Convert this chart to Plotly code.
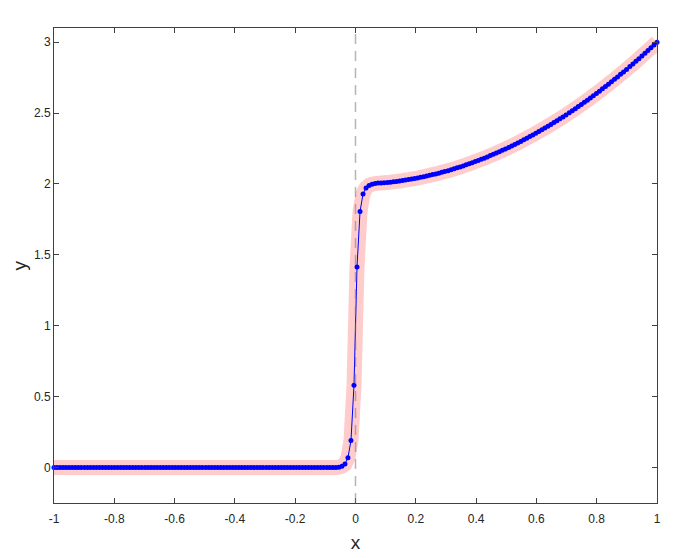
import plotly.graph_objects as go

# sampled grid (200 points on [-1, 1]) and numerical solution values
x_neg = [-1.0, -0.99, -0.98, -0.97, -0.96, -0.95, -0.94, -0.93, -0.92, -0.91,
         -0.899, -0.889, -0.879, -0.869, -0.859, -0.849, -0.839, -0.829, -0.819, -0.809,
         -0.799, -0.789, -0.779, -0.769, -0.759, -0.749, -0.739, -0.729, -0.719, -0.709,
         -0.698, -0.688, -0.678, -0.668, -0.658, -0.648, -0.638, -0.628, -0.618, -0.608,
         -0.598, -0.588, -0.578, -0.568, -0.558, -0.548, -0.538, -0.528, -0.518, -0.508,
         -0.497, -0.487, -0.477, -0.467, -0.457, -0.447, -0.437, -0.427, -0.417, -0.407,
         -0.397, -0.387, -0.377, -0.367, -0.357, -0.347, -0.337, -0.327, -0.317, -0.307,
         -0.296, -0.286, -0.276, -0.266, -0.256, -0.246, -0.236, -0.226, -0.216, -0.206,
         -0.196, -0.186, -0.176, -0.166, -0.156, -0.146, -0.136, -0.126, -0.116, -0.106,
         -0.095, -0.085, -0.075, -0.065, -0.055, -0.045, -0.035, -0.025, -0.015, -0.005]
y_neg = [0.0, 0.0, 0.0, 0.0, 0.0, 0.0, 0.0, 0.0, 0.0, 0.0,
         0.0, 0.0, 0.0, 0.0, 0.0, 0.0, 0.0, 0.0, 0.0, 0.0,
         0.0, 0.0, 0.0, 0.0, 0.0, 0.0, 0.0, 0.0, 0.0, 0.0,
         0.0, 0.0, 0.0, 0.0, 0.0, 0.0, 0.0, 0.0, 0.0, 0.0,
         0.0, 0.0, 0.0, 0.0, 0.0, 0.0, 0.0, 0.0, 0.0, 0.0,
         0.0, 0.0, 0.0, 0.0, 0.0, 0.0, 0.0, 0.0, 0.0, 0.0,
         0.0, 0.0, 0.0, 0.0, 0.0, 0.0, 0.0, 0.0, 0.0, 0.0,
         0.0, 0.0, 0.0, 0.0, 0.0, 0.0, 0.0, 0.0, 0.0, 0.0,
         0.0, 0.0, 0.0, 0.0, 0.0, 0.0, 0.0, 0.0, 0.0, 0.0,
         0.0, 0.0, 0.0, 0.0, 0.003, 0.01, 0.025, 0.07, 0.19, 0.58]

x_pos = [0.005, 0.015, 0.025, 0.035, 0.045, 0.055, 0.065, 0.075, 0.085, 0.095,
         0.106, 0.116, 0.126, 0.136, 0.146, 0.156, 0.166, 0.176, 0.186, 0.196,
         0.206, 0.216, 0.226, 0.236, 0.246, 0.256, 0.266, 0.276, 0.286, 0.296,
         0.307, 0.317, 0.327, 0.337, 0.347, 0.357, 0.367, 0.377, 0.387, 0.397,
         0.407, 0.417, 0.427, 0.437, 0.447, 0.457, 0.467, 0.477, 0.487, 0.497,
         0.508, 0.518, 0.528, 0.538, 0.548, 0.558, 0.568, 0.578, 0.588, 0.598,
         0.608, 0.618, 0.628, 0.638, 0.648, 0.658, 0.668, 0.678, 0.688, 0.698,
         0.709, 0.719, 0.729, 0.739, 0.749, 0.759, 0.769, 0.779, 0.789, 0.799,
         0.809, 0.819, 0.829, 0.839, 0.849, 0.859, 0.869, 0.879, 0.889, 0.899,
         0.91, 0.92, 0.93, 0.94, 0.95, 0.96, 0.97, 0.98, 0.99, 1.0]
y_pos = [1.415, 1.805, 1.930, 1.972, 1.990, 1.998, 2.003, 2.006, 2.007, 2.009,
         2.011, 2.013, 2.016, 2.018, 2.021, 2.024, 2.028, 2.031, 2.035, 2.038,
         2.042, 2.047, 2.051, 2.056, 2.061, 2.066, 2.071, 2.076, 2.082, 2.088,
         2.094, 2.100, 2.107, 2.114, 2.120, 2.127, 2.135, 2.142, 2.150, 2.158,
         2.166, 2.174, 2.182, 2.191, 2.200, 2.209, 2.218, 2.228, 2.237, 2.247,
         2.258, 2.268, 2.279, 2.289, 2.300, 2.311, 2.323, 2.334, 2.346, 2.358,
         2.370, 2.382, 2.394, 2.407, 2.420, 2.433, 2.446, 2.460, 2.473, 2.487,
         2.503, 2.517, 2.531, 2.546, 2.561, 2.576, 2.591, 2.607, 2.623, 2.638,
         2.654, 2.671, 2.687, 2.704, 2.721, 2.738, 2.755, 2.773, 2.790, 2.808,
         2.828, 2.846, 2.865, 2.884, 2.903, 2.922, 2.941, 2.960, 2.980, 3.000]

x_tick_vals = [-1, -0.8, -0.6, -0.4, -0.2, 0, 0.2, 0.4, 0.6, 0.8, 1]
x_tick_text = ["-1", "-0.8", "-0.6", "-0.4", "-0.2", "0", "0.2", "0.4", "0.6", "0.8", "1"]
y_tick_vals = [0, 0.5, 1, 1.5, 2, 2.5, 3]
y_tick_text = ["0", "0.5", "1", "1.5", "2", "2.5", "3"]

x_all = x_neg + x_pos
y_all = y_neg + y_pos

FONT = "Liberation Sans, Arial, sans-serif"

fig = go.Figure()
fig.add_trace(go.Scatter(
    x=x_all, y=y_all, mode="lines",
    line=dict(color="#ffcccc", width=15, simplify=False),
    hoverinfo="skip", showlegend=False,
))
fig.add_trace(go.Scatter(
    x=x_all, y=y_all, mode="lines+markers",
    line=dict(color="#0000ff", width=1, simplify=False),
    marker=dict(color="#0000ff", size=5, line=dict(width=0)),
    cliponaxis=False, showlegend=False,
))

fig.add_shape(type="line", xref="x", yref="paper", x0=0, x1=0, y0=0, y1=1,
              line=dict(color="rgba(120,120,120,0.55)", width=1.5, dash="10px,7px"),
              layer="above")

axis_common = dict(
    showline=True, mirror="ticks", linecolor="#404040", linewidth=1,
    ticks="inside", ticklen=5, tickcolor="#404040", tickwidth=1,
    showgrid=False, zeroline=False, automargin=False,
    tickfont=dict(family=FONT, size=12, color="#262626"),
)

fig.update_xaxes(range=[-1, 1], tickvals=x_tick_vals, ticktext=x_tick_text,
                 ticklabelstandoff=5,
                 title=dict(text="x", font=dict(family=FONT, size=19, color="#262626"),
                            standoff=10),
                 **axis_common)
fig.update_yaxes(range=[-0.25, 3.1], tickvals=y_tick_vals, ticktext=y_tick_text,
                 **axis_common)

fig.add_annotation(text="y", xref="paper", yref="paper", x=0, y=0.5,
                   xanchor="center", yanchor="middle", xshift=-35, textangle=-90,
                   showarrow=False,
                   font=dict(family=FONT, size=19, color="#262626"))

# page body adds an 8px offset, so margins are shifted to compensate
fig.update_layout(
    width=684, height=558,
    margin=dict(l=46, r=35, t=20, b=63),
    paper_bgcolor="white", plot_bgcolor="white",
    showlegend=False,
)

fig.write_html("out.html")
